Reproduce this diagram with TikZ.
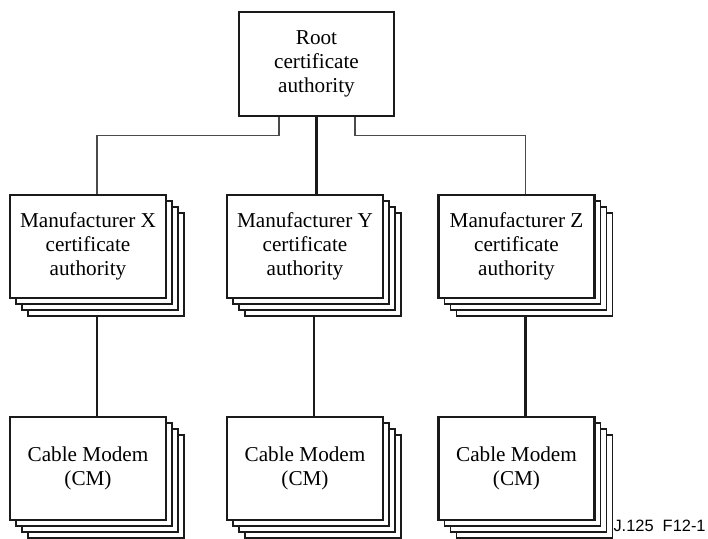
\documentclass[tikz,border=0pt]{standalone}
\usepackage{fontspec}
\setmainfont{Liberation Serif}
\newfontfamily\figfont{Liberation Sans}
\usepackage{tikz}
\usepackage{xcolor}
\usetikzlibrary{positioning,shadows,calc}
\definecolor{ink}{HTML}{1A1A1A}
\definecolor{inkgray}{HTML}{4A4A4A}
\tikzset{
  cabox/.style={draw=ink,fill=white,line width=1.4pt,align=center,
                minimum width=77.5pt,minimum height=52pt,inner sep=2pt,
                font=\fontsize{10.6}{12}\selectfont},
  stackbox/.style={cabox,minimum width=78pt,minimum height=51.5pt,
                   copy shadow={shadow xshift=9pt,shadow yshift=-9pt,line width=0.6pt,draw=ink},
                   copy shadow={shadow xshift=6pt,shadow yshift=-6pt,line width=0.6pt,draw=ink},
                   copy shadow={shadow xshift=3pt,shadow yshift=-3pt,line width=0.6pt,draw=ink}},
  thinlink/.style={line width=0.6pt,draw=inkgray},
  thicklink/.style={line width=1.1pt,draw=ink}
}

\begin{document}
\begin{tikzpicture}[x=0.5pt,y=-0.5pt]
    \useasboundingbox (0,0) rectangle (708,539);
    \node[cabox] (root) at (316.5,64) {Root\\certificate\\authority};
    \node[stackbox] (mx) at (88,246.5) {Manufacturer X\\certificate\\authority};
    \node[stackbox] (my) at (305,246.5) {Manufacturer Y\\certificate\\authority};
    \node[stackbox] (mz) at (516.5,246.5) {Manufacturer Z\\certificate\\authority};
    \node[stackbox] (cx) at (88,468.5) {Cable Modem\\(CM)};
    \node[stackbox] (cy) at (305,468.5) {Cable Modem\\(CM)};
    \node[stackbox] (cz) at (516.5,468.5) {Cable Modem\\(CM)};
    \draw[thinlink] ([xshift=-18.75pt]root.south) -- ++(0pt,-9pt)
      -| ([xshift=4.5pt]mx.north);
    \draw[thinlink] ([xshift=19.25pt]root.south) -- ++(0pt,-9pt)
      -| ([xshift=4.5pt]mz.north);
    \draw[thicklink] (root.south) -- (root.south |- my.north);
    \draw[thicklink] ([xshift=4.5pt,yshift=-9pt]mx.south) -- ([xshift=4.5pt]cx.north);
    \draw[thicklink] ([xshift=4.5pt,yshift=-9pt]my.south) -- ([xshift=4.5pt]cy.north);
    \draw[thicklink] ([xshift=4.5pt,yshift=-9pt]mz.south) -- ([xshift=4.5pt]cz.north);
    \node[anchor=base east,inner sep=0pt,font=\figfont\fontsize{8.2}{9}\selectfont]
      (figid) at (706,532) {J.125\ \ F12-1};
  \end{tikzpicture}
\end{document}
